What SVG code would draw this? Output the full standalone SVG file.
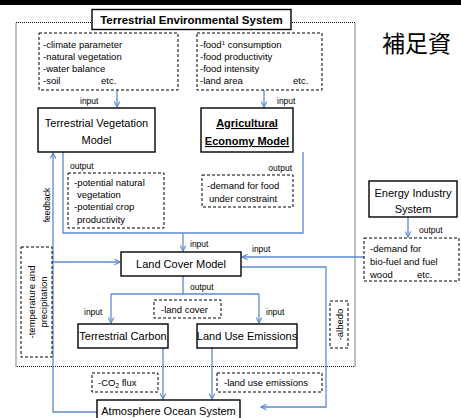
<svg xmlns="http://www.w3.org/2000/svg" width="461" height="418" viewBox="0 0 461 418">
<style>
text{font-family:"Liberation Sans",Arial,sans-serif;fill:#000}
.box{fill:#fff;stroke:#000;stroke-width:1.4}
.dash{fill:#fff;stroke:#000;stroke-width:1;stroke-dasharray:3,2}
.dot{fill:none;stroke:#000;stroke-width:1;stroke-dasharray:1,1}
.c{fill:none;stroke:#5b8bd0;stroke-width:1.3}
.t{font-size:9.5px}
.s{font-size:8.5px}
.n{font-size:11px;text-anchor:middle}
</style>
<defs>
<marker id="ah" viewBox="0 0 10 10" refX="9" refY="5" markerWidth="7" markerHeight="7" markerUnits="userSpaceOnUse" orient="auto">
<path d="M1,1 L9,5 L1,9" fill="none" stroke="#5b8bd0" stroke-width="1.6"/>
</marker>
</defs>
<rect x="0" y="0" width="461" height="5" fill="#000"/>
<text x="382" y="52" font-size="23" style="font-family:'Noto Sans CJK JP',sans-serif">補足資</text>
<rect class="dot" x="16" y="22.5" width="339" height="344"/>

<g id="connectors">
<path class="c" d="M117,90 V107" marker-end="url(#ah)"/>
<path class="c" d="M264,90 V107" marker-end="url(#ah)"/>
<path class="c" d="M63,152 V233 H303 V152"/>
<path class="c" d="M183,233 V251" marker-end="url(#ah)"/>
<path class="c" d="M97,412 H53 V153" marker-end="url(#ah)"/>
<path class="c" d="M53,262 H120" marker-end="url(#ah)"/>
<path class="c" d="M364,257 H242" marker-end="url(#ah)"/>
<path class="c" d="M408,217 V237" marker-end="url(#ah)"/>
<path class="c" d="M183,276 V294 M111,294 H259"/>
<path class="c" d="M111,294 V323" marker-end="url(#ah)"/>
<path class="c" d="M259,294 V323" marker-end="url(#ah)"/>
<path class="c" d="M241,267 H326 V407 H261" marker-end="url(#ah)"/>
<path class="c" d="M163,348 V399" marker-end="url(#ah)"/>
<path class="c" d="M212,348 V399" marker-end="url(#ah)"/>
</g>

<g id="title">
<rect class="box" x="92" y="9.5" width="199" height="20"/>
<text x="191.5" y="23.5" font-size="11.5" font-weight="bold" text-anchor="middle">Terrestrial  Environmental  System</text>
</g>

<g id="climate">
<rect class="dash" x="39" y="33" width="139" height="57"/>
<text class="t" x="43" y="48">-climate parameter</text>
<text class="t" x="43" y="60">-natural vegetation</text>
<text class="t" x="43" y="72">-water balance</text>
<text class="t" x="43" y="84">-soil</text>
<text class="t" x="101" y="84">etc.</text>
</g>

<g id="food">
<rect class="dash" x="197" y="33" width="125" height="57"/>
<text class="t" x="200" y="48">-food<tspan font-size="6" dy="-3">1</tspan><tspan dy="3"> consumption</tspan></text>
<text class="t" x="200" y="60">-food productivity</text>
<text class="t" x="200" y="72">-food intensity</text>
<text class="t" x="200" y="84">-land area</text>
<text class="t" x="293" y="84">etc.</text>
</g>

<text class="s" x="80" y="104">input</text>
<text class="s" x="277" y="104">input</text>

<g id="tvm">
<rect class="box" x="38" y="108" width="117" height="44"/>
<text class="n" x="96.5" y="127" font-size="11.5">Terrestrial Vegetation</text>
<text class="n" x="96.5" y="144" font-size="11.5">Model</text>
</g>

<g id="agri">
<rect class="box" x="201" y="108" width="92" height="44"/>
<text class="n" x="247" y="127" font-weight="bold" text-decoration="underline">Agricultural</text>
<text class="n" x="247" y="145" font-weight="bold" text-decoration="underline">Economy Model</text>
</g>

<text class="s" x="70" y="169">output</text>
<text class="s" x="292" y="171" text-anchor="end">output</text>

<g id="tvm-out">
<rect class="dash" x="68" y="173" width="96" height="55"/>
<text class="t" x="74" y="186">-potential natural</text>
<text class="t" x="77" y="198">vegetation</text>
<text class="t" x="74" y="210">-potential crop</text>
<text class="t" x="77" y="223">productivity</text>
</g>

<g id="agri-out">
<rect class="dash" x="202" y="175" width="91" height="32"/>
<text class="t" x="207" y="189">-demand for food</text>
<text class="t" x="209" y="202">under constraint</text>
</g>

<text class="s" transform="translate(49.5,205) rotate(-90)" text-anchor="middle">feedback</text>

<g id="energy">
<rect class="box" x="369" y="181" width="88" height="36"/>
<text class="n" x="413" y="197">Energy Industry</text>
<text class="n" x="413" y="213">System</text>
</g>
<text class="s" x="419" y="233">output</text>

<g id="energy-out">
<rect class="dash" x="364" y="238" width="95" height="43"/>
<text class="t" x="370" y="252">-demand for</text>
<text class="t" x="370" y="265">bio-fuel and fuel</text>
<text class="t" x="370" y="278">wood</text>
<text class="t" x="417" y="278">etc.</text>
</g>

<text class="s" x="190" y="247">input</text>
<text class="s" x="252" y="252">input</text>

<g id="lcm">
<rect class="box" x="121" y="252" width="120" height="24"/>
<text class="n" x="181" y="268">Land Cover Model</text>
</g>

<g id="temp">
<rect class="dash" x="21" y="247" width="31" height="110"/>
<text class="t" transform="translate(34.5,302) rotate(-90)" text-anchor="middle">-temperature and</text>
<text class="t" transform="translate(46.5,302) rotate(-90)" text-anchor="middle">precipitation</text>
</g>

<text class="s" x="190" y="290">output</text>
<text class="s" x="84" y="315">input</text>
<text class="s" x="266" y="315">input</text>

<g id="landcover">
<rect class="dash" x="154" y="300" width="67" height="18"/>
<text class="t" x="161" y="313">-land cover</text>
</g>

<g id="albedo">
<rect class="dash" x="330" y="301" width="18" height="47"/>
<text class="t" transform="translate(342.5,324.5) rotate(-90)" text-anchor="middle">-albedo</text>
</g>

<g id="tc">
<rect class="box" x="78" y="324" width="90" height="24"/>
<text class="n" x="123" y="340">Terrestrial Carbon</text>
</g>

<g id="lue">
<rect class="box" x="197" y="324" width="100" height="24"/>
<text class="n" x="247" y="340" font-size="10.5">Land Use Emissions</text>
</g>

<g id="co2">
<rect class="dash" x="92" y="373" width="66" height="19"/>
<text class="t" x="98" y="386">-CO<tspan font-size="6.5" dy="2">2</tspan><tspan dy="-2"> flux</tspan></text>
</g>

<g id="lue-out">
<rect class="dash" x="217" y="373" width="105" height="19"/>
<text class="t" x="224" y="386">-land use emissions</text>
</g>

<g id="aos">
<rect class="box" x="97" y="400" width="143" height="26"/>
<text class="n" x="168.5" y="415" font-size="10.7">Atmosphere Ocean System</text>
</g>
</svg>
